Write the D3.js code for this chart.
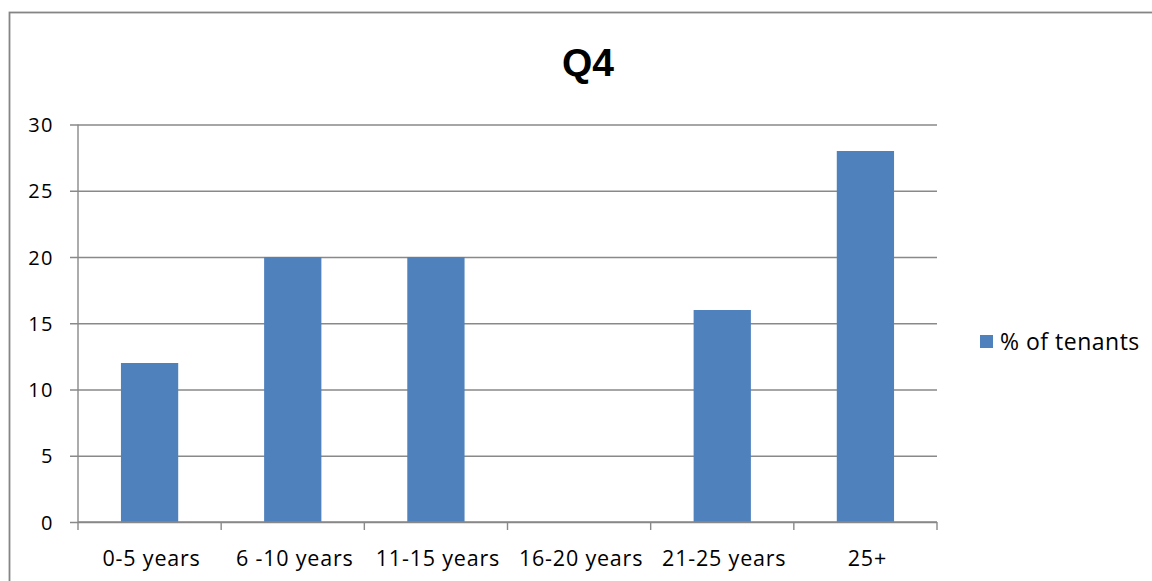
<!DOCTYPE html>
<html>
<head>
<meta charset="utf-8">
<script src="https://cdn.jsdelivr.net/npm/d3@7"></script>
<style>
  html, body { margin: 0; padding: 0; background: #fff; }
  svg { display: block; }
</style>
</head>
<body>
<svg id="chart" width="1152" height="581"></svg>
<script>
// Tenancy length buckets and the share of tenants in each
const categories = ["0-5 years", "6 -10 years", "11-15 years", "16-20 years", "21-25 years", "25+"];
const tenantShare = [12, 20, 20, 0, 16, 28];
const yTicks = [0, 5, 10, 15, 20, 25, 30];
const seriesName = "% of tenants";
const chartTitle = "Q4";

const svg = d3.select("#chart");
const W = 1152, H = 581;
const plot = { left: 78, right: 937, top: 124.5, bottom: 522 };
const axisGray = "#898989";
const barBlue = "#4F81BD";
const labelFont = "'Open Sans', sans-serif";

// outer chart frame (runs past the right and bottom edges)
svg.append("rect")
  .attr("x", 9.5).attr("y", 12.5)
  .attr("width", W + 20).attr("height", H + 20)
  .attr("fill", "#fff")
  .attr("stroke", "#858585")
  .attr("stroke-width", 1.8);

const x = d3.scaleBand()
  .domain(categories)
  .range([plot.left, plot.right])
  .paddingInner(0.6)
  .paddingOuter(0.3);

const y = d3.scaleLinear()
  .domain([0, 30])
  .range([plot.bottom, plot.top]);

// horizontal gridlines with left tick marks
const yAxis = d3.axisLeft(y)
  .tickValues(yTicks)
  .tickSize(-(plot.right - plot.left))
  .tickSizeOuter(0)
  .tickFormat(d => d);

const gy = svg.append("g")
  .attr("transform", `translate(${plot.left},0)`)
  .call(yAxis);
gy.select(".domain").remove();
gy.selectAll(".tick line")
  .attr("x1", -8)
  .attr("stroke", axisGray)
  .attr("stroke-width", 1.4);
gy.selectAll(".tick text")
  .attr("x", -24)
  .attr("dy", "0.36em")
  .attr("fill", "#000")
  .style("font-family", labelFont)
  .style("font-size", "20px")
  .style("letter-spacing", "1.5px");

// vertical axis line
svg.append("line")
  .attr("x1", plot.left).attr("x2", plot.left)
  .attr("y1", plot.top).attr("y2", plot.bottom)
  .attr("stroke", axisGray).attr("stroke-width", 1.4);

// bars
svg.append("g")
  .selectAll("rect")
  .data(categories.map((c, i) => ({ c, v: tenantShare[i] })))
  .join("rect")
  .attr("x", d => x(d.c))
  .attr("width", x.bandwidth())
  .attr("y", d => y(d.v))
  .attr("height", d => y(0) - y(d.v))
  .attr("fill", barBlue);

// category axis with tick marks on the band boundaries
const step = x.step();
const boundaries = d3.range(categories.length + 1).map(i => plot.left + i * step);
svg.append("line")
  .attr("x1", plot.left).attr("x2", plot.right)
  .attr("y1", plot.bottom).attr("y2", plot.bottom)
  .attr("stroke", axisGray).attr("stroke-width", 1.4);
svg.append("g")
  .selectAll("line")
  .data(boundaries)
  .join("line")
  .attr("x1", d => d).attr("x2", d => d)
  .attr("y1", plot.bottom).attr("y2", plot.bottom + 8)
  .attr("stroke", axisGray).attr("stroke-width", 1.4);

svg.append("g")
  .selectAll("text")
  .data(categories)
  .join("text")
  .attr("x", d => x(d) + x.bandwidth() / 2 + 2)
  .attr("y", 566)
  .attr("text-anchor", "middle")
  .attr("fill", "#000")
  .style("font-family", labelFont)
  .style("font-size", "21.5px")
  .style("letter-spacing", "0.8px")
  .text(d => d);

// title
svg.append("text")
  .attr("x", 588)
  .attr("y", 76)
  .attr("text-anchor", "middle")
  .attr("fill", "#000")
  .style("font-family", "'Liberation Sans', Arial, sans-serif")
  .style("font-weight", "bold")
  .style("font-size", "39px")
  .text(chartTitle);

// legend
const legend = svg.append("g");
legend.append("rect")
  .attr("x", 980).attr("y", 335)
  .attr("width", 13).attr("height", 13)
  .attr("fill", barBlue);
legend.append("text")
  .attr("x", 1000)
  .attr("y", 349.5)
  .attr("fill", "#000")
  .style("font-family", labelFont)
  .style("font-size", "23px")
  .style("letter-spacing", "0.5px")
  .text(seriesName);
</script>
</body>
</html>
